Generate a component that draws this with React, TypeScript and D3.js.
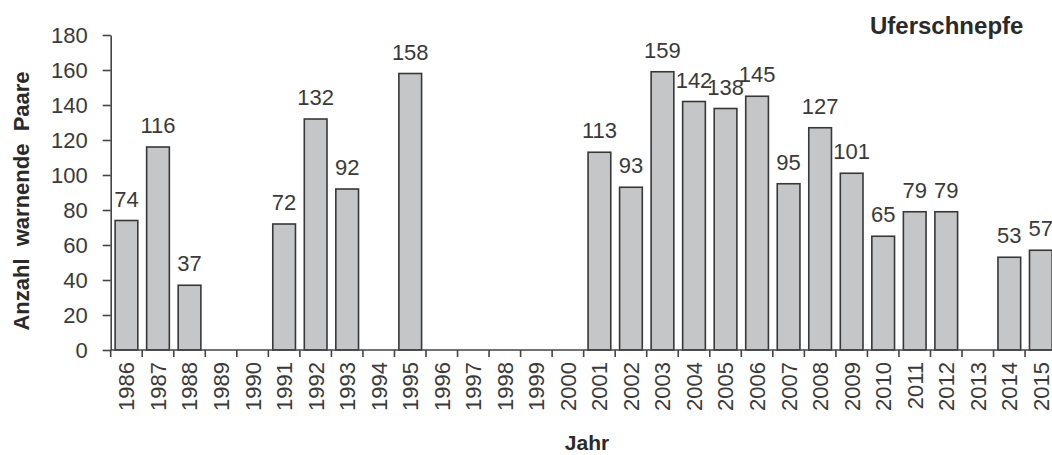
import React, { useEffect, useRef } from "react";
import * as d3 from "d3";

const years = [
  "1986","1987","1988","1989","1990","1991","1992","1993","1994","1995",
  "1996","1997","1998","1999","2000","2001","2002","2003","2004","2005",
  "2006","2007","2008","2009","2010","2011","2012","2013","2014","2015",
];
const pairs: (number | null)[] = [
  74, 116, 37, null, null, 72, 132, 92, null, 158,
  null, null, null, null, null, 113, 93, 159, 142, 138,
  145, 95, 127, 101, 65, 79, 79, null, 53, 57,
];
const yTicks = [0, 20, 40, 60, 80, 100, 120, 140, 160, 180];
const title = "Uferschnepfe";
const yTitle = "Anzahl  warnende  Paare";
const xTitle = "Jahr";

const W = 1052;
const H = 455;
const FONT = "'Liberation Sans', Arial, Helvetica, sans-serif";
const TXT = "#3a3a3a";

export default function App() {
  const ref = useRef<SVGSVGElement>(null);

  useEffect(() => {
    const svg = d3.select(ref.current);
    svg.selectAll("*").remove();

    const left = 110.7;
    const right = 1056.6;
    const top = 35;
    const bottom = 350;

    const x = d3.scaleBand<string>().domain(years).range([left, right]).paddingInner(0.28).paddingOuter(0.14);
    const y = d3.scaleLinear().domain([0, 180]).range([bottom, top]);
    const step = x.step();

    const g = svg.append("g");

    const data = years.map((yr, i) => ({ yr, v: pairs[i] })).filter((d) => d.v !== null) as { yr: string; v: number }[];
    g.selectAll("rect.bar")
      .data(data)
      .join("rect")
      .attr("class", "bar")
      .attr("x", (d) => x(d.yr)!)
      .attr("y", (d) => y(d.v))
      .attr("width", x.bandwidth())
      .attr("height", (d) => bottom - y(d.v))
      .attr("fill", "#c5c6c8")
      .attr("stroke", "#383838")
      .attr("stroke-width", 1.6);

    g.selectAll("text.val")
      .data(data)
      .join("text")
      .attr("class", "val")
      .attr("x", (d) => x(d.yr)! + x.bandwidth() / 2)
      .attr("y", (d) => y(d.v) - 14)
      .attr("text-anchor", "middle")
      .attr("font-family", FONT)
      .attr("font-size", 22)
      .attr("fill", TXT)
      .text((d) => String(d.v));

    const yAxis = d3.axisLeft(y).tickValues(yTicks).tickSize(8).tickSizeOuter(0).tickPadding(15);
    const ya = g.append("g").attr("transform", `translate(${left},0)`).call(yAxis);
    ya.attr("font-size", 22).attr("font-family", FONT);
    ya.select(".domain").attr("stroke", "#444").attr("stroke-width", 1.6);
    ya.selectAll(".tick line").attr("stroke", "#444").attr("stroke-width", 1.6);
    ya.selectAll(".tick text")
      .attr("font-family", FONT)
      .attr("font-size", 22)
      .attr("fill", TXT);

    g.append("line")
      .attr("x1", left)
      .attr("x2", W)
      .attr("y1", bottom)
      .attr("y2", bottom)
      .attr("stroke", "#444")
      .attr("stroke-width", 1.6);

    const bounds = years.map((yr) => x(yr)! - (step * 0.28) / 2);
    bounds.push(bounds[bounds.length - 1] + step);
    g.selectAll("line.xt")
      .data(bounds)
      .join("line")
      .attr("class", "xt")
      .attr("x1", (d) => d)
      .attr("x2", (d) => d)
      .attr("y1", bottom)
      .attr("y2", bottom + 7)
      .attr("stroke", "#444")
      .attr("stroke-width", 1.6);

    g.selectAll("text.xl")
      .data(years)
      .join("text")
      .attr("class", "xl")
      .attr("transform", (d) => `translate(${x(d)! + x.bandwidth() / 2},${bottom + 12}) rotate(-90)`)
      .attr("dy", "0.36em")
      .attr("text-anchor", "end")
      .attr("font-family", FONT)
      .attr("font-size", 22)
      .attr("fill", TXT)
      .text((d) => d);

    svg.append("text")
      .attr("x", 870)
      .attr("y", 34)
      .attr("font-family", FONT)
      .attr("font-size", 24)
      .attr("font-weight", "bold")
      .attr("fill", "#2a2a2a")
      .text(title);

    svg.append("text")
      .attr("x", 587)
      .attr("y", 450)
      .attr("text-anchor", "middle")
      .attr("font-family", FONT)
      .attr("font-size", 21)
      .attr("font-weight", "bold")
      .attr("fill", "#2a2a2a")
      .text(xTitle);

    svg.append("text")
      .attr("transform", `translate(29,201) rotate(-90)`)
      .attr("text-anchor", "middle")
      .attr("font-family", FONT)
      .attr("font-size", 22)
      .attr("font-weight", "bold")
      .attr("fill", "#2a2a2a")
      .attr("xml:space", "preserve")
      .style("white-space", "pre")
      .text(yTitle);
  }, []);

  return (
    <svg
      ref={ref}
      width={W}
      height={H}
      style={{ position: "absolute", left: 0, top: 0, background: "#fff" }}
    />
  );
}
